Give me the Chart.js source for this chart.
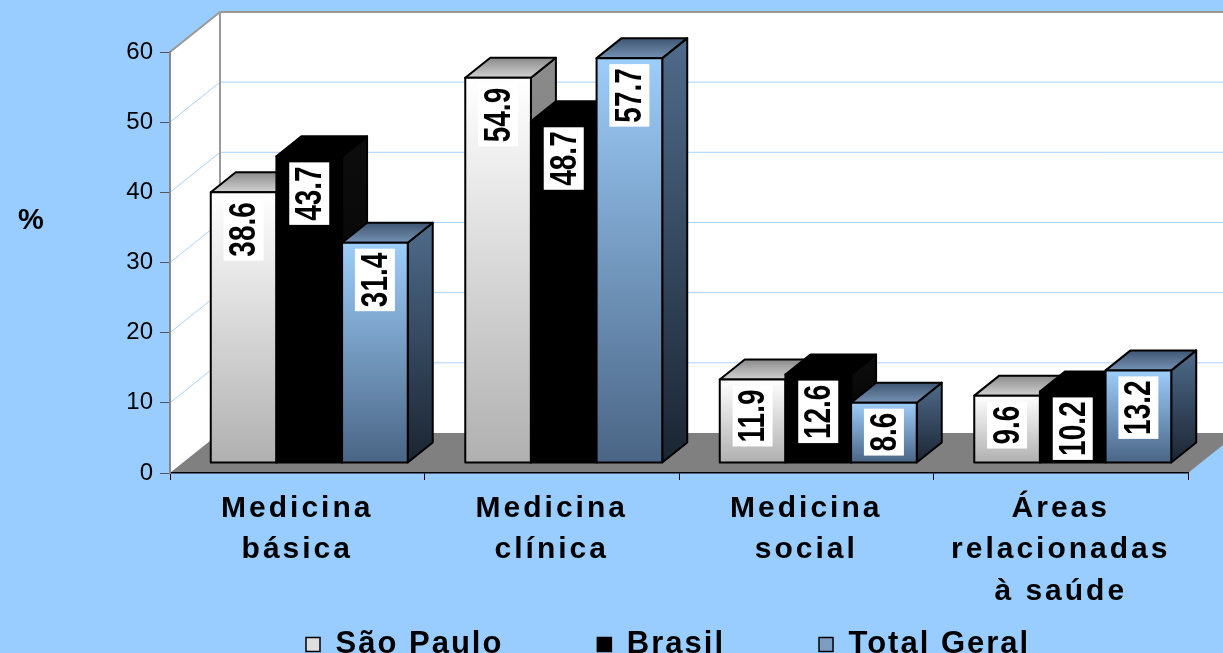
<!DOCTYPE html>
<html>
<head>
<meta charset="utf-8">
<script src="https://cdn.jsdelivr.net/npm/chart.js@4"></script>
<style>
  body { margin: 0; background: #99ccff; }
  canvas { display: block; }
</style>
</head>
<body>
<canvas id="chart" width="1223" height="653"></canvas>
<script>
// categories and series
const categories = [['Medicina', 'básica'], ['Medicina', 'clínica'], ['Medicina', 'social'], ['Áreas', 'relacionadas', 'à saúde']];
const saoPaulo = [38.6, 54.9, 11.9, 9.6];
const brasil = [43.7, 48.7, 12.6, 10.2];
const totalGeral = [31.4, 57.7, 8.6, 13.2];
const seriesNames = ['São Paulo', 'Brasil', 'Total Geral'];
const yMin = 0, yMax = 60, yStep = 10;

// 3d look
const WALL_DX = 50, WALL_DY = -40;
const BAR_OX = 12, BAR_OY = -10, BAR_DX = 25, BAR_DY = -20;

const faces = [
    { front: ['#ffffff', '#b0b0b0'], top: ['#8a8a8a', '#d2d2d2'], side: ['#8c8c8c', '#676767'] },
    { front: ['#000000', '#000000'], top: ['#000000', '#000000'], side: ['#0d0d0d', '#000000'] },
    { front: ['#9dcdfa', '#4a6585'], top: ['#3d5571', '#7592b3'], side: ['#4f6b8b', '#1b2532'] }
];

function poly(ctx, pts) {
    ctx.beginPath();
    ctx.moveTo(pts[0][0], pts[0][1]);
    for (let i = 1; i < pts.length; i++) ctx.lineTo(pts[i][0], pts[i][1]);
    ctx.closePath();
}

function grad(ctx, y0, y1, cols) {
    const g = ctx.createLinearGradient(0, y0, 0, y1);
    g.addColorStop(0, cols[0]);
    g.addColorStop(1, cols[1]);
    return g;
}

function drawBox(ctx, el, style, value) {
    const l = el.x - el.width / 2 + BAR_OX, r = el.x + el.width / 2 + BAR_OX;
    const t = el.y + BAR_OY, b = el.base + BAR_OY;
    ctx.lineWidth = 2;
    ctx.strokeStyle = '#000';
    ctx.lineJoin = 'round';

    // side
    poly(ctx, [[r, t], [r + BAR_DX, t + BAR_DY], [r + BAR_DX, b + BAR_DY], [r, b]]);
    ctx.fillStyle = grad(ctx, t + BAR_DY, b, style.side);
    ctx.fill(); ctx.stroke();
    // top
    poly(ctx, [[l, t], [l + BAR_DX, t + BAR_DY], [r + BAR_DX, t + BAR_DY], [r, t]]);
    ctx.fillStyle = grad(ctx, t + BAR_DY, t, style.top);
    ctx.fill(); ctx.stroke();
    // front
    ctx.beginPath();
    ctx.rect(l, t, r - l, b - t);
    ctx.fillStyle = grad(ctx, t, b, style.front);
    ctx.fill(); ctx.stroke();

    // value label, rotated
    const txt = value.toFixed(1);
    ctx.save();
    ctx.letterSpacing = '0px';
    ctx.font = 'bold 28px "Liberation Sans", Arial, sans-serif';
    const tw = ctx.measureText(txt).width;
    const bh = tw + 8, bw = 40;
    const cx = (l + r) / 2, top = t + 6;
    ctx.fillStyle = '#fff';
    ctx.fillRect(cx - bw / 2, top, bw, bh);
    ctx.translate(cx, top + bh / 2);
    ctx.rotate(-Math.PI / 2);
    ctx.scale(1, 1.35);
    ctx.fillStyle = '#000';
    ctx.textAlign = 'center';
    ctx.textBaseline = 'middle';
    ctx.fillText(txt, 0, 1);
    ctx.restore();
}

const scene3d = {
    id: 'scene3d',
    afterLayout(chart) {
        // legend spacing and letter spacing like the original
        const lg = chart.legend;
        lg.left = 212; lg.right = chart.width; lg.top = 535; lg.bottom = chart.height;
        if (!lg._wrapped) {
            const origDraw = lg.draw;
            lg.draw = function (a) {
                this.ctx.save();
                this.ctx.letterSpacing = '2px';
                origDraw.call(this, a);
                this.ctx.restore();
            };
            lg._wrapped = true;
        }
        const xs = chart.scales.x;
        if (!xs._wrapped) {
            const origLabels = xs.drawLabels;
            xs.drawLabels = function (a) {
                this.ctx.save();
                this.ctx.letterSpacing = '3px';
                origLabels.call(this, a);
                this.ctx.restore();
            };
            xs._wrapped = true;
        }
    },
    beforeDraw(chart) {
        const { ctx, chartArea: a, scales: { y } } = chart;
        ctx.save();
        ctx.fillStyle = '#99ccff';
        ctx.fillRect(0, 0, chart.width, chart.height);

        const L = a.left, R = a.right, T = a.top, B = a.bottom;
        // walls
        ctx.fillStyle = '#ffffff';
        poly(ctx, [[L, T], [L + WALL_DX, T + WALL_DY], [R + WALL_DX, T + WALL_DY], [R + WALL_DX, B + WALL_DY], [L + WALL_DX, B + WALL_DY], [L, B]]);
        ctx.fill();

        // grid lines on walls
        ctx.strokeStyle = '#a9d2fa';
        ctx.lineWidth = 1;
        y.ticks.forEach(tk => {
            if (tk.value === yMin || tk.value === yMax) return;
            const py = y.getPixelForValue(tk.value);
            ctx.beginPath();
            ctx.moveTo(L, py);
            ctx.lineTo(L + WALL_DX, py + WALL_DY);
            ctx.lineTo(R + WALL_DX, py + WALL_DY);
            ctx.stroke();
        });

        // wall edges
        ctx.strokeStyle = '#999999';
        ctx.lineWidth = 2;
        ctx.beginPath();
        ctx.moveTo(L, T);
        ctx.lineTo(L + WALL_DX, T + WALL_DY);
        ctx.lineTo(R + WALL_DX, T + WALL_DY);
        ctx.moveTo(L + WALL_DX, T + WALL_DY);
        ctx.lineTo(L + WALL_DX, B + WALL_DY);
        ctx.stroke();

        // floor
        ctx.fillStyle = '#808080';
        poly(ctx, [[L, B], [L + WALL_DX, B + WALL_DY], [R + WALL_DX, B + WALL_DY], [R, B]]);
        ctx.fill();
        ctx.restore();
    },
    beforeDatasetsDraw(chart) {
        const ctx = chart.ctx;
        const metas = [0, 1, 2].map(i => chart.getDatasetMeta(i));
        ctx.save();
        for (let c = 0; c < categories.length; c++) {
            metas.forEach((m, d) => {
                drawBox(ctx, m.data[c], faces[d], chart.data.datasets[d].data[c]);
            });
        }
        ctx.restore();
        return false;
    },
    afterDraw(chart) {
        const ctx = chart.ctx;
        ctx.save();
        ctx.fillStyle = '#000';
        ctx.font = 'bold 29px "Liberation Sans", Arial, sans-serif';
        ctx.textAlign = 'center';
        ctx.textBaseline = 'middle';
        ctx.fillText('%', 31, 221);
        ctx.restore();
    }
};

const config = {
    type: 'bar',
    data: {
        labels: categories,
        datasets: [
            { label: seriesNames[0], data: saoPaulo, backgroundColor: '#dedede', borderColor: '#000', borderWidth: 1.5 },
            { label: seriesNames[1], data: brasil, backgroundColor: '#000000', borderColor: '#000', borderWidth: 1.5 },
            { label: seriesNames[2], data: totalGeral, backgroundColor: '#7d9ec2', borderColor: '#000', borderWidth: 1.5 }
        ]
    },
    options: {
        responsive: false,
        animation: false,
        events: [],
        layout: { padding: { top: 52, right: 35, bottom: 0, left: 0 } },
        datasets: { bar: { categoryPercentage: 0.774, barPercentage: 1.0 } },
        plugins: {
            tooltip: { enabled: false },
            legend: {
                position: 'bottom',
                align: 'start',
                maxHeight: 40,
                labels: {
                    color: '#000',
                    boxWidth: 14,
                    boxHeight: 14,
                    padding: 94,
                    font: { family: '"Liberation Sans", Arial, sans-serif', size: 31, weight: 'bold' }
                }
            }
        },
        scales: {
            x: {
                afterFit: s => { s.height = 140; },
                grid: { drawOnChartArea: false, tickLength: 7, color: '#000' },
                border: { color: '#000', width: 1.5 },
                ticks: {
                    color: '#000',
                    autoSkip: false,
                    maxRotation: 0,
                    padding: 8,
                    font: { family: '"Liberation Sans", Arial, sans-serif', size: 30, weight: 'bold', lineHeight: 1.38 }
                }
            },
            y: {
                min: yMin,
                max: yMax,
                afterFit: s => { s.width = 170; },
                grid: { drawOnChartArea: false, tickLength: 10, color: '#555' },
                border: { color: '#888', width: 2 },
                ticks: {
                    stepSize: yStep,
                    color: '#000',
                    padding: 7,
                    font: { family: '"Liberation Sans", Arial, sans-serif', size: 24 }
                }
            }
        }
    },
    plugins: [scene3d]
};

const myChart = new Chart(document.getElementById('chart').getContext('2d'), config);
</script>
</body>
</html>
